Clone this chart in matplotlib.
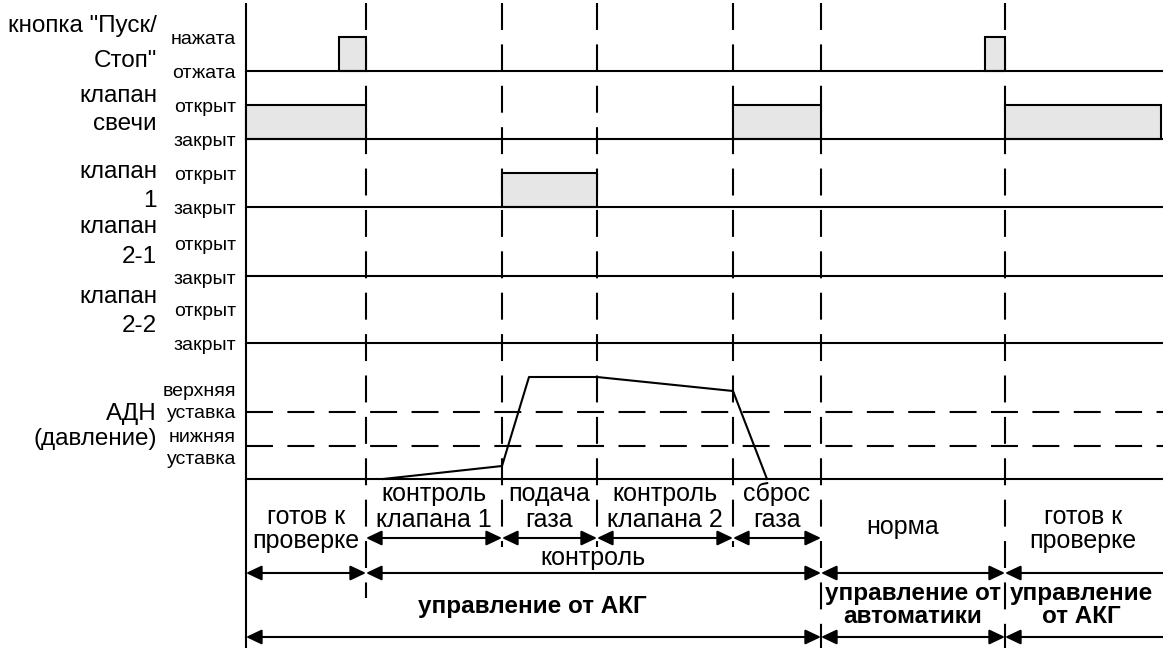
import matplotlib
matplotlib.use("Agg")
import matplotlib.pyplot as plt
from matplotlib.patches import Rectangle

plt.rcParams['font.family'] = ['Liberation Sans', 'DejaVu Sans']
plt.rcParams['lines.scale_dashes'] = False

# ---------------- data (time in chart units; left axis at t=246) ----------------
t_start, t_end = 246, 1163
phase_times = [366, 502, 597, 733, 821, 1005]          # phase boundaries
phase_marker_ends = [598, 547, 547, 547, 648, 648]      # how far down each marker goes

button_pressed = [(339, 366), (985, 1005)]
candle_open = [(246, 366), (733, 821), (1005, 1161)]
valve1_open = [(502, 597)]
valve21_open = []
valve22_open = []

pressure_t = [383, 502, 529, 597, 733, 767]
pressure_v = [0, 13, 102, 102, 88, 0]
setpoint_upper = 67
setpoint_lower = 33

signal_labels = [['кнопка "Пуск/', 'Стоп"'], ['клапан', 'свечи'], ['клапан', '1'],
                 ['клапан', '2-1'], ['клапан', '2-2']]
state_labels = [['нажата', 'отжата'], ['открыт', 'закрыт'], ['открыт', 'закрыт'],
                ['открыт', 'закрыт'], ['открыт', 'закрыт']]
adn_labels = ['АДН', '(давление)']
adn_state_labels = ['верхняя', 'уставка', 'нижняя', 'уставка']

sub_phases = [('контроль\nклапана 1', 366, 502), ('подача\nгаза', 502, 597),
              ('контроль\nклапана 2', 597, 733), ('сброс\nгаза', 733, 821)]
mid_phases = [('готов к\nпроверке', 246, 366), ('контроль', 366, 821),
              ('норма', 821, 1005), ('готов к\nпроверке', 1005, 1190)]
ctrl_phases = [('управление от АКГ', 246, 821), ('управление от\nавтоматики', 821, 1005),
               ('управление\nот АКГ', 1005, 1190)]

# ---------------- layout ----------------
W, H = 1163, 648
fig = plt.figure(figsize=(W / 100, H / 100), dpi=100)
ax = fig.add_axes([0, 0, 1, 1])
ax.set_xlim(0, W)
ax.set_ylim(H, 0)
ax.axis('off')

LW = 1.5
row_base = [71, 139, 207, 276, 343]
row_high = 34
adn_base = 479
fs_big = 17.5
fs_bottom = 18
fs_small = 14
fs_bold = 17.5

# vertical axis
ax.plot([t_start, t_start], [3, H], color='black', lw=LW, solid_capstyle='butt')

signals = [button_pressed, candle_open, valve1_open, valve21_open, valve22_open]
for base, sig in zip(row_base, signals):
    for (a, b) in sig:
        ax.add_patch(Rectangle((a, base - row_high), b - a, row_high,
                               facecolor='#e6e6e6', edgecolor='black', lw=LW, zorder=3))
    ax.plot([t_start, t_end], [base, base], color='black', lw=LW, zorder=4)

# ADN
ax.plot([t_start, t_end], [adn_base, adn_base], color='black', lw=LW)
for sp in (setpoint_upper, setpoint_lower):
    ax.plot([t_start, t_end], [adn_base - sp, adn_base - sp], color='black', lw=LW,
            dashes=(19.4, 10.4))
ax.plot(pressure_t, [adn_base - v for v in pressure_v], color='black', lw=LW, zorder=5)

# phase markers
for x, yend in zip(phase_times, phase_marker_ends):
    ax.plot([x, x], [3, yend], color='black', lw=LW, dashes=(19.4, 10.4), zorder=2)

# labels on left
x_sig = 157
sig_baselines = [(32, 67), (102, 130), (178, 207), (233, 263), (303, 332)]
for (l1, l2), (b1, b2) in zip(signal_labels, sig_baselines):
    ax.text(x_sig, b1, l1, ha='right', va='baseline', fontsize=fs_big)
    ax.text(x_sig, b2, l2, ha='right', va='baseline', fontsize=fs_big)
ax.text(x_sig, 420, adn_labels[0], ha='right', va='baseline', fontsize=fs_big)
ax.text(x_sig, 445, adn_labels[1], ha='right', va='baseline', fontsize=fs_big)

x_st = 236
for (hi, lo), base in zip(state_labels, row_base):
    ax.text(x_st, base - row_high + 3, hi, ha='right', va='center', fontsize=fs_small)
    ax.text(x_st, base + 3, lo, ha='right', va='center', fontsize=fs_small)
for lab, yc in zip(adn_state_labels, [391, 413, 436, 459]):
    ax.text(x_st, yc + 1, lab, ha='right', va='center', fontsize=fs_small)

# arrows
def darrow(x0, x1, y):
    ax.annotate('', xy=(x1, y), xytext=(x0, y),
                arrowprops=dict(arrowstyle='<|-|>,head_length=0.95,head_width=0.45',
                                mutation_scale=10, color='black', lw=LW,
                                shrinkA=0, shrinkB=0), annotation_clip=False)

for text, a, b in sub_phases:
    darrow(a, b, 538)
    ax.text((a + b) / 2, 507, text, ha='center', va='center', fontsize=fs_bottom,
            linespacing=1.1)

for text, a, b in mid_phases:
    darrow(a, b, 573)
mid_text_pos = [(306, 529), (593, 558), (903, 527), (1083, 529)]
for (text, a, b), (xc, yc) in zip(mid_phases, mid_text_pos):
    ax.text(xc, yc, text, ha='center', va='center', fontsize=fs_bottom, linespacing=1.0)

for text, a, b in ctrl_phases:
    darrow(a, b, 637)
ctrl_text_pos = [(532, 607), (913, 605), (1081, 605)]
for (text, a, b), (xc, yc) in zip(ctrl_phases, ctrl_text_pos):
    ax.text(xc, yc, text, ha='center', va='center', fontsize=fs_bold,
            fontweight='bold', linespacing=1.0)

fig.savefig('out.png', dpi=100, facecolor='white')
